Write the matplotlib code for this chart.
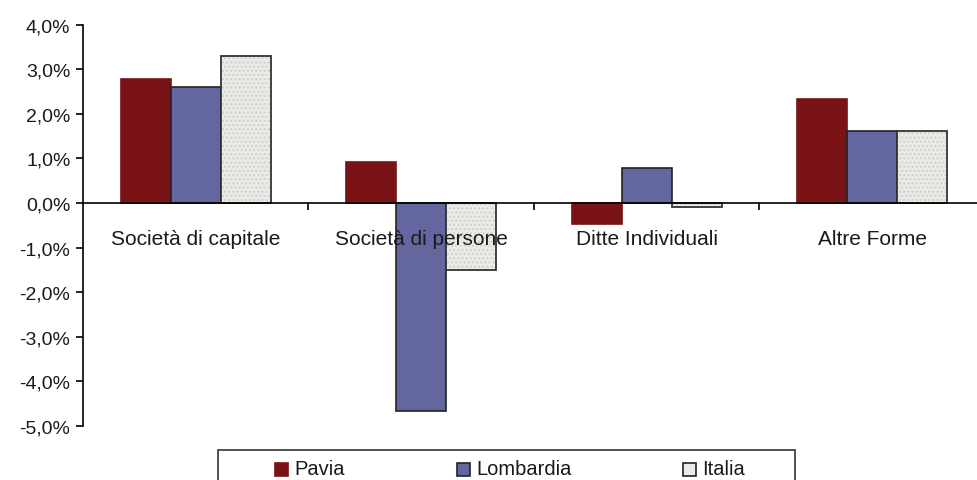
import matplotlib
matplotlib.use("Agg")
import matplotlib.pyplot as plt
from matplotlib.patches import Rectangle
import numpy as np

plt.rcParams['font.family'] = ['Liberation Sans', 'DejaVu Sans']
plt.rcParams['hatch.linewidth'] = 1.0

## Dati: variazione % delle imprese per forma giuridica

categorie = ["Società di capitale", "Società di persone", "Ditte Individuali", "Altre Forme"]
pavia = [2.78, 0.93, -0.48, 2.33]
lombardia = [2.60, -4.66, 0.79, 1.61]
italia = [3.30, -1.51, -0.10, 1.61]
serie = ["Pavia", "Lombardia", "Italia"]
y_ticks = [4, 3, 2, 1, 0, -1, -2, -3, -4, -5]
y_labels = ["4,0%", "3,0%", "2,0%", "1,0%", "0,0%", "-1,0%", "-2,0%", "-3,0%", "-4,0%", "-5,0%"]

colori = ["#7a1315", "#6466a0", "#ebebe8"]
bordi = ["#7a1315", "#222222", "#333333"]

W, H = 978, 481
fig = plt.figure(figsize=(W/100, H/100), dpi=100)
ax = fig.add_axes([83/W, 0.0566, 1 - 83/W, 0.918])

x = np.arange(len(categorie))
w = 0.222
for i, vals in enumerate([pavia, lombardia, italia]):
    pos = x + (i - 1) * w
    if i == 2:
        # fondo puntinato grigio per Italia
        ax.bar(pos, vals, width=w, color=colori[i], edgecolor="#cfcfcc",
               hatch="....", linewidth=0, zorder=2)
        ax.bar(pos, vals, width=w, fill=False, edgecolor=bordi[i],
               linewidth=1.3, zorder=2.5)
    else:
        ax.bar(pos, vals, width=w, color=colori[i], edgecolor=bordi[i],
               linewidth=1.2, zorder=2)

# etichette delle categorie sotto la linea dello zero
for xi, nome in zip(x, categorie):
    ax.text(xi, -0.8, nome, ha="center", va="center", fontsize=15,
            color="#1a1a1a", zorder=5)

ax.set_xlim(-0.5, 3.47)
ax.set_ylim(-5.6, 4.3)
ax.set_yticks(y_ticks)
ax.set_yticklabels(y_labels, fontsize=14, color="#1a1a1a")
ax.set_xticks([0.5, 1.5, 2.5])
ax.set_xticklabels([])
ax.tick_params(axis="x", direction="out", length=5, width=1.2)
ax.tick_params(axis="y", direction="out", length=5, width=1.2, pad=4)

for s in ["top", "right"]:
    ax.spines[s].set_visible(False)
ax.spines["bottom"].set_position(("data", 0))
ax.spines["bottom"].set_linewidth(1.2)
ax.spines["bottom"].set_zorder(3)
ax.spines["left"].set_bounds(-5, 4)
ax.spines["left"].set_linewidth(1.2)

# legenda in basso, riquadro tagliato dal bordo della figura
fig.patches.append(Rectangle((218/W, 1 - 500/H), (795 - 218)/W, 49/H,
                             transform=fig.transFigure, fill=False,
                             edgecolor="#333333", linewidth=1.2))
leg_x = [275, 457, 683]
yc = 470
s = 13
for i, nome in enumerate(serie):
    fig.patches.append(Rectangle((leg_x[i]/W, 1 - (yc + s/2)/H), s/W, s/H,
                                 transform=fig.transFigure, facecolor=colori[i],
                                 edgecolor="#222222" if i else colori[0],
                                 linewidth=1.2))
    fig.text((leg_x[i] + s + 6)/W, 1 - yc/H, nome, fontsize=14.5,
             color="#1a1a1a", va="center", ha="left")

fig.savefig("out.png", dpi=100)
